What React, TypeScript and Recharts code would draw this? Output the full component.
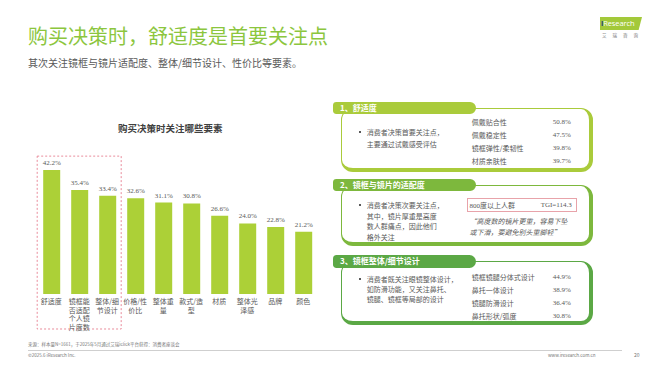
import React from 'react'
import { BarChart, Bar, XAxis, YAxis, LabelList, ReferenceArea } from 'recharts'

const categories = [
  '舒适度',
  '镜框能否适配个人镜片度数',
  '整体/细节设计',
  '价格/性价比',
  '整体重量',
  '款式/造型',
  '材质',
  '整体光泽感',
  '品牌',
  '颜色',
]
const shares = [42.2, 35.4, 33.4, 32.6, 31.1, 30.8, 26.6, 24.0, 22.8, 21.2]

const comfortItems = ['佩戴贴合性', '佩戴稳定性', '镜框弹性/柔韧性', '材质亲肤性']
const comfortValues = [50.8, 47.5, 39.8, 39.7]
const designItems = ['镜框镜腿分体式设计', '鼻托一体设计', '镜腿防滑设计', '鼻托形状/弧度']
const designValues = [44.9, 38.9, 36.4, 30.8]

const CJK = '"Noto Sans CJK SC", "Noto Sans", sans-serif'
const SERIF = '"Liberation Serif", "DejaVu Serif", serif'
const GREY = '#595959'

// break labels into lines about 3 CJK characters wide
function wrapLabel(label: string): string[] {
  const lines: string[] = []
  let cur = ''
  let w = 0
  for (const ch of label) {
    const cw = ch.charCodeAt(0) < 128 ? 0.5 : 1
    if (w + cw > 3.5 && cur) {
      lines.push(cur)
      cur = ''
      w = 0
    }
    cur += ch
    w += cw
  }
  if (cur) lines.push(cur)
  return lines
}

const CategoryTick = ({ x, y, payload }: any) => {
  const lines = wrapLabel(payload.value)
  return (
    <text x={x} y={y} textAnchor="middle" fill={GREY} fontSize={7} fontFamily={CJK}>
      {lines.map((l, i) => (
        <tspan key={i} x={x} dy={i === 0 ? 2 : 8.5}>
          {l}
        </tspan>
      ))}
    </text>
  )
}

const abs = (left: number, top: number, extra: React.CSSProperties = {}): React.CSSProperties => ({
  position: 'absolute',
  left,
  top,
  whiteSpace: 'nowrap',
  ...extra,
})

function Panel({ title, color, tabTop, boxTop, boxBottom }: any) {
  return (
    <>
      <div
        style={{
          ...abs(341, boxTop),
          width: 252,
          height: boxBottom - boxTop,
          boxSizing: 'border-box',
          borderStyle: 'solid',
          borderColor: color,
          borderWidth: '1.5px 4.5px 4.5px 1.5px',
          borderRadius: 12,
          background: '#fff',
        }}
      />
      <div
        style={{
          ...abs(333, tabTop),
          width: 143,
          height: 12.5,
          background: color,
          borderRadius: '4px 7px 7px 4px',
          color: '#fff',
          fontFamily: CJK,
          fontWeight: 700,
          fontSize: 8,
          lineHeight: '12.5px',
          paddingLeft: 7,
          boxSizing: 'border-box',
        }}
      >
        {title}
      </div>
    </>
  )
}

function TextLines({ left, top, lh, lines, extra }: any) {
  return (
    <>
      {lines.map((l: string, i: number) => (
        <div
          key={i}
          style={{
            ...abs(left, top + i * lh - 5),
            fontFamily: CJK,
            fontSize: 7,
            lineHeight: '10px',
            color: GREY,
            ...extra,
          }}
        >
          {l}
        </div>
      ))}
    </>
  )
}

function Bullet({ left, top }: any) {
  return <div style={{ ...abs(left, top - 1), width: 2, height: 2, background: GREY }} />
}

function ItemList({ items, values, top, lh }: any) {
  return (
    <>
      <TextLines left={471.7} top={top} lh={lh} lines={items} />
      <TextLines
        left={552.7}
        top={top}
        lh={lh}
        lines={values.map((v: number) => v.toFixed(1) + '%')}
        extra={{ fontFamily: SERIF }}
      />
    </>
  )
}

export default function App() {
  const rows = categories.map((name, i) => ({ name, value: shares[i] }))

  return (
    <div style={{ position: 'absolute', left: 0, top: 0, width: 650, height: 365, background: '#fff', overflow: 'hidden' }}>
      {/* header */}
      <div style={{ ...abs(28, 24), fontFamily: CJK, fontSize: 20, lineHeight: '24px', color: '#8cc63e' }}>
        购买决策时，舒适度是首要关注点
      </div>
      <div style={{ ...abs(28, 56), fontFamily: CJK, fontSize: 10, lineHeight: '14px', color: GREY }}>
        其次关注镜框与镜片适配度、整体/细节设计、性价比等要素。
      </div>

      {/* logo */}
      <div
        style={{
          ...abs(600, 17),
          width: 42,
          height: 13,
          background: '#a3c93a',
          clipPath: 'polygon(0 0, 100% 0, 92% 100%, 0 100%)',
        }}
      />
      <div
        style={{
          ...abs(601, 17),
          fontFamily: '"Open Sans", sans-serif',
          fontSize: 7.5,
          lineHeight: '13px',
          color: '#fff',
          letterSpacing: -0.1,
        }}
      >
        <span style={{ color: '#1f3f7a', fontWeight: 700 }}>i</span>Research
      </div>
      <div style={{ ...abs(602, 32), fontFamily: CJK, fontSize: 4.5, lineHeight: '7px', color: '#777', letterSpacing: 6 }}>
        艾瑞咨询
      </div>

      {/* chart */}
      <div style={{ ...abs(118, 122), fontFamily: CJK, fontSize: 9.5, fontWeight: 700, lineHeight: '13px', color: '#404040' }}>
        购买决策时关注哪些要素
      </div>
      <div style={{ position: 'absolute', left: 0, top: 0 }}>
        <BarChart width={330} height={340} data={rows} margin={{ top: 147, right: 12.8, left: 37.2, bottom: 6 }}>
          <XAxis dataKey="name" axisLine={false} tickLine={false} interval={0} height={40} tick={<CategoryTick />} />
          <YAxis hide domain={[0, 50]} />
          <ReferenceArea
            x1="舒适度"
            x2="整体/细节设计"
            y1={-11.9}
            y2={46.9}
            ifOverflow="visible"
            fill="none"
            fillOpacity={0}
            stroke="#e98c9b"
            strokeWidth={1}
            strokeDasharray="2 2"
          />
          <Bar dataKey="value" fill="#acd037" barSize={17} isAnimationActive={false}>
            <LabelList
              dataKey="value"
              position="top"
              offset={5}
              formatter={(v: any) => Number(v).toFixed(1) + '%'}
              fill={GREY}
              fontSize={7}
              fontFamily={SERIF}
            />
          </Bar>
        </BarChart>
      </div>

      {/* panel 1 */}
      <Panel title="1、舒适度" color="#aacb3b" tabTop={101.5} boxTop={107.5} boxBottom={172} />
      <Bullet left={359} top={131.7} />
      <TextLines left={366.7} top={131.7} lh={12.5} lines={['消费者决策首要关注点，', '主要通过试戴感受评估']} />
      <ItemList items={comfortItems} values={comfortValues} top={122} lh={13} />

      {/* panel 2 */}
      <Panel title="2、镜框与镜片的适配度" color="#7db83d" tabTop={178.5} boxTop={184.5} boxBottom={245.5} />
      <Bullet left={359} top={205} />
      <TextLines
        left={366.7}
        top={205}
        lh={10.6}
        lines={['消费者决策次要关注点，', '其中，镜片厚重是高度', '数人群痛点，因此他们', '格外关注']}
      />
      <div style={{ ...abs(467, 198), width: 110, height: 14, boxSizing: 'border-box', border: '1px solid #e8a3aa' }} />
      <div style={{ ...abs(469.5, 200), fontFamily: SERIF, fontSize: 7, lineHeight: '10px', color: GREY }}>
        800<span style={{ fontFamily: CJK }}>度以上人群</span>
      </div>
      <div style={{ ...abs(540.7, 200), fontFamily: SERIF, fontSize: 7, lineHeight: '10px', color: GREY }}>TGI=114.3</div>
      <TextLines
        left={469.5}
        top={221}
        lh={11}
        lines={['“高度数的镜片更重，容易下坠', '或下滑，要避免别头重脚轻”']}
        extra={{ fontStyle: 'italic' }}
      />

      {/* panel 3 */}
      <Panel title="3、镜框整体/细节设计" color="#5ba845" tabTop={255} boxTop={261} boxBottom={325} />
      <Bullet left={359} top={279.3} />
      <TextLines
        left={366.7}
        top={279.3}
        lh={10}
        lines={['消费者既关注眼镜整体设计，', '如防滑功能，又关注鼻托、', '镜腿、镜框等局部的设计']}
      />
      <ItemList items={designItems} values={designValues} top={277.3} lh={12.8} />

      {/* footer */}
      <div style={{ ...abs(28, 341), fontFamily: CJK, fontSize: 4.5, lineHeight: '6px', color: '#777' }}>
        来源：样本量N=1661，于2025年5月通过艾瑞iclick平台获得：消费者座谈会
      </div>
      <div style={{ ...abs(28, 350), width: 594, height: 0.7, background: '#cfcfcf' }} />
      <div style={{ ...abs(28, 351.5), fontFamily: CJK, fontSize: 4.5, lineHeight: '6px', color: '#777' }}>
        ©2025.6 iResearch Inc.
      </div>
      <div style={{ ...abs(548, 351.5), fontFamily: CJK, fontSize: 4.5, lineHeight: '6px', color: '#777' }}>
        www.iresearch.com.cn
      </div>
      <div style={{ ...abs(634, 351.5), fontFamily: CJK, fontSize: 5, lineHeight: '6px', color: '#777' }}>20</div>
    </div>
  )
}
